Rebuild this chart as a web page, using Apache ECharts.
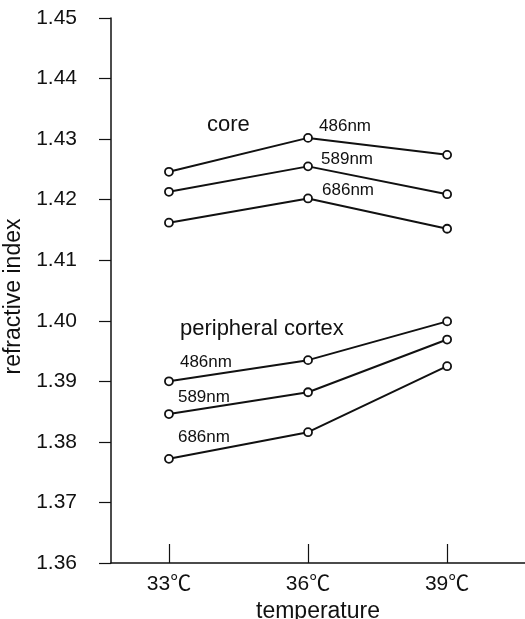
<!DOCTYPE html>
<html>
<head>
<meta charset="utf-8">
<script src="https://cdn.jsdelivr.net/npm/echarts@6/dist/echarts.min.js"></script>
<style>
html,body{margin:0;padding:0;background:#fff;}
#chart{width:525px;height:619px;}
</style>
</head>
<body>
<div id="chart"></div>
<script>
var temps = [33, 36, 39];
var tempLabels = ['33℃', '36℃', '39℃'];
var core486 = [1.4246, 1.4302, 1.4274];
var core589 = [1.4213, 1.4255, 1.4209];
var core686 = [1.4162, 1.4202, 1.4152];
var cortex486 = [1.3900, 1.3935, 1.3999];
var cortex589 = [1.3846, 1.3882, 1.3969];
var cortex686 = [1.3772, 1.3816, 1.3925];

var FONT = "'Liberation Sans', Arial, 'Noto Sans CJK JP', sans-serif";
var INK = '#111';

function mkLabel(text, size, offset) {
  return {
    show: true, position: 'inside', align: 'left', verticalAlign: 'middle',
    formatter: text, fontSize: size, fontFamily: FONT, color: INK, offset: offset
  };
}

function makeSeries(name, vals, labels) {
  var data = vals.map(function (v, i) {
    var item = { value: [temps[i], v] };
    if (labels && labels[i]) item.label = labels[i];
    return item;
  });
  return {
    name: name, type: 'line', data: data,
    symbol: 'circle', symbolSize: 8,
    itemStyle: { color: '#fff', borderColor: INK, borderWidth: 1.8 },
    lineStyle: { color: INK, width: 2 },
    label: { show: false },
    z: 3
  };
}

var cortexTitle = {
  show: true, position: 'inside', align: 'left', verticalAlign: 'middle',
  formatter: '{a|peripheral cortex}\n{b|486nm}',
  fontFamily: FONT, color: INK, offset: [11, -35.5],
  rich: {
    a: { fontSize: 22, lineHeight: 33, fontFamily: FONT, color: INK, align: 'left' },
    b: { fontSize: 17, lineHeight: 33, fontFamily: FONT, color: INK, align: 'left' }
  }
};

var chart = echarts.init(document.getElementById('chart'), null, { renderer: 'canvas' });
chart.setOption({
  animation: false,
  backgroundColor: '#fff',
  grid: { left: 111, right: 0, top: 18, bottom: 56, containLabel: false, outerBoundsMode: 'none' },
  xAxis: {
    type: 'value', min: 31.75, max: 40.68,
    name: 'temperature', nameLocation: 'middle', nameGap: 30,
    nameTextStyle: { fontSize: 23, fontFamily: FONT, color: INK },
    axisLine: { show: true, lineStyle: { color: INK, width: 1.5 } },
    axisTick: { show: true, inside: true, length: 19, customValues: temps, lineStyle: { color: INK, width: 1.2 } },
    axisLabel: {
      customValues: temps, margin: 11, fontSize: 21, fontFamily: FONT, color: INK,
      formatter: function (v) { var i = temps.indexOf(v); return i >= 0 ? tempLabels[i] : ''; }
    },
    splitLine: { show: false }
  },
  yAxis: {
    type: 'value', min: 1.36, max: 1.45, interval: 0.01,
    name: 'refractive index', nameLocation: 'middle', nameGap: 76,
    nameTextStyle: { fontSize: 23, fontFamily: FONT, color: INK, padding: [0, 12, 0, 0] },
    axisLine: { show: true, lineStyle: { color: INK, width: 1.5 } },
    axisTick: { show: true, length: 12, lineStyle: { color: INK, width: 1.2 } },
    axisLabel: {
      margin: 34, fontSize: 21, fontFamily: FONT, color: INK,
      formatter: function (v) { return v.toFixed(2); }
    },
    splitLine: { show: false }
  },
  series: [
    makeSeries('core 486nm', core486, [mkLabel('core', 22, [38, -47]), mkLabel('486nm', 17, [11, -12]), null]),
    makeSeries('core 589nm', core589, [null, mkLabel('589nm', 17, [13, -7]), null]),
    makeSeries('core 686nm', core686, [null, mkLabel('686nm', 17, [14, -8]), null]),
    makeSeries('cortex 486nm', cortex486, [cortexTitle, null, null]),
    makeSeries('cortex 589nm', cortex589, [mkLabel('589nm', 17, [9, -17]), null, null]),
    makeSeries('cortex 686nm', cortex686, [mkLabel('686nm', 17, [9, -22]), null, null])
  ]
});
</script>
</body>
</html>
